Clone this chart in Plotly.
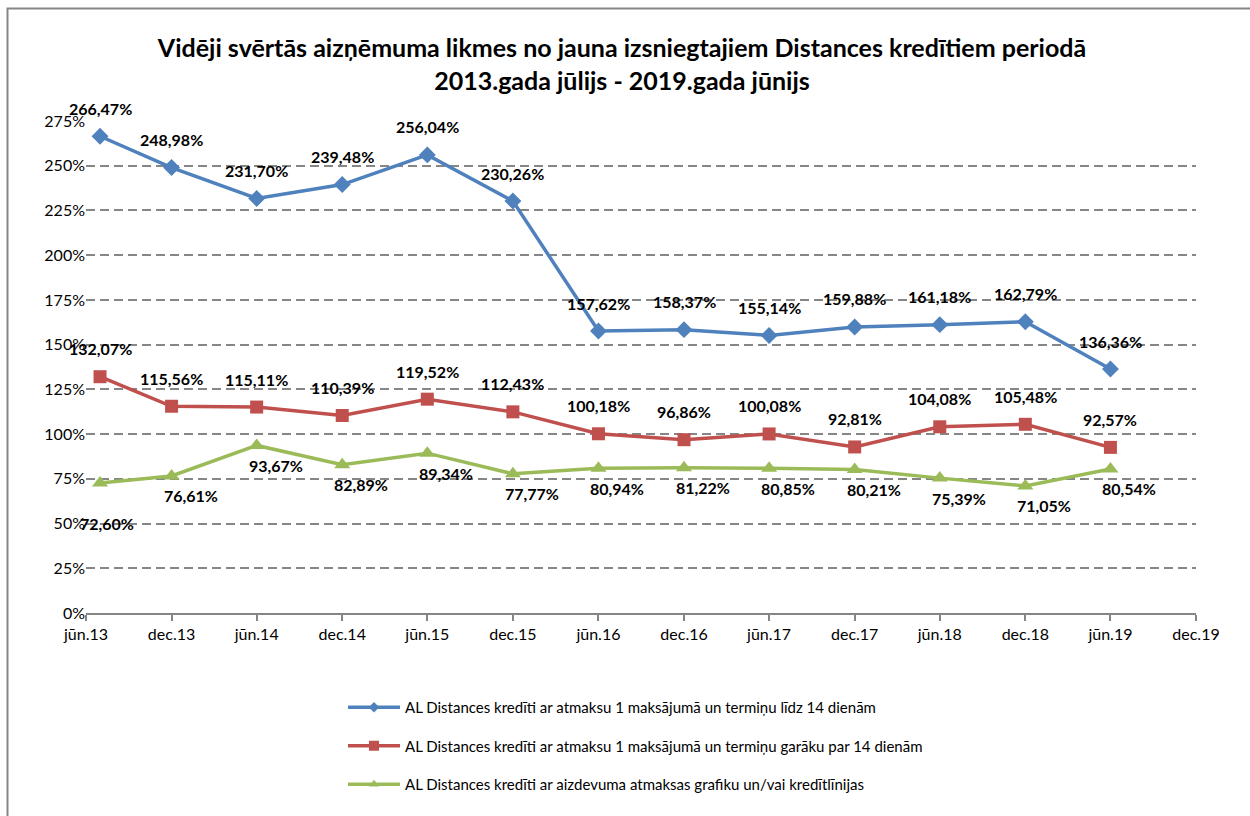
import plotly.graph_objects as go

# ---- data ----
dates = ["2013-07-01", "2013-12-01", "2014-06-01", "2014-12-01", "2015-06-01",
         "2015-12-01", "2016-06-01", "2016-12-01", "2017-06-01", "2017-12-01",
         "2018-06-01", "2018-12-01", "2019-06-01"]

series_names = [
    "AL Distances kredīti ar atmaksu 1 maksājumā un termiņu līdz 14 dienām",
    "AL Distances kredīti ar atmaksu 1 maksājumā un termiņu garāku par 14 dienām",
    "AL Distances kredīti ar aizdevuma atmaksas grafiku un/vai kredītlīnijas",
]
blue_vals = [266.47, 248.98, 231.70, 239.48, 256.04, 230.26, 157.62, 158.37,
             155.14, 159.88, 161.18, 162.79, 136.36]
red_vals = [132.07, 115.56, 115.11, 110.39, 119.52, 112.43, 100.18, 96.86,
            100.08, 92.81, 104.08, 105.48, 92.57]
green_vals = [72.60, 76.61, 93.67, 82.89, 89.34, 77.77, 80.94, 81.22,
              80.85, 80.21, 75.39, 71.05, 80.54]

tick_dates = ["2013-06-01", "2013-12-01", "2014-06-01", "2014-12-01", "2015-06-01",
              "2015-12-01", "2016-06-01", "2016-12-01", "2017-06-01", "2017-12-01",
              "2018-06-01", "2018-12-01", "2019-06-01", "2019-12-01"]
tick_labels = ["jūn.13", "dec.13", "jūn.14", "dec.14", "jūn.15", "dec.15", "jūn.16",
               "dec.16", "jūn.17", "dec.17", "jūn.18", "dec.18", "jūn.19", "dec.19"]

y_ticks = [0, 25, 50, 75, 100, 125, 150, 175, 200, 225, 250, 275]
y_tick_labels = [f"{v}%" for v in y_ticks]

title_text = ("Vidēji svērtās aizņēmuma likmes no jauna izsniegtajiem Distances kredītiem periodā"
              "<br>2013.gada jūlijs - 2019.gada jūnijs")

FONT = "Lato"
colors = ["#4F81BD", "#C0504D", "#9BBB59"]
symbols = ["diamond", "square", "triangle-up"]
msizes = [13, 13, 14]
legend_msizes = [8, 10, 9]


def fmt(v):
    return f"{v:.2f}".replace(".", ",") + "%"


fig = go.Figure()
for name, vals, col, sym, ms in zip(series_names, [blue_vals, red_vals, green_vals],
                                     colors, symbols, msizes):
    fig.add_trace(go.Scatter(
        x=dates, y=vals, name=name, mode="lines+markers",
        line=dict(color=col, width=3.5),
        marker=dict(symbol=sym, size=ms, color=col),
        legendgroup=name, showlegend=False,
    ))
# legend entries (smaller markers, as in the original legend)
for name, col, sym, ms in zip(series_names, colors, symbols, legend_msizes):
    fig.add_trace(go.Scatter(
        x=[None], y=[None], name=name, mode="lines+markers",
        line=dict(color=col, width=3.5),
        marker=dict(symbol=sym, size=ms, color=col),
        legendgroup=name, showlegend=True, hoverinfo="skip",
    ))

annotations = []
for vals, xs, ys in [(blue_vals, 0, 28), (red_vals, 0, 28), (green_vals, 19, -20)]:
    for i, (d, v) in enumerate(zip(dates, vals)):
        xsh, ysh = xs, ys
        if vals is green_vals and i == 0:
            xsh, ysh = 7, -40
        annotations.append(dict(
            x=d, y=v, xref="x", yref="y", text=fmt(v), showarrow=False,
            xshift=xsh, yshift=ysh,
            font=dict(family=FONT, size=16, color="#000000", weight="bold"),
        ))

L, R, T, B = 86, 1196, 121, 613
W, H = 1250, 816
pw, ph = R - L, B - T


def px_x(p):
    return (p - L) / pw


def px_y(p):
    return (B - p) / ph


fig.update_layout(
    width=W, height=H,
    margin=dict(l=L, r=W - R, t=T, b=H - B, pad=0),
    paper_bgcolor="white", plot_bgcolor="white",
    font=dict(family=FONT, size=16, color="#000000"),
    title=dict(text=title_text, x=622 / W, xanchor="center", xref="container",
               y=1 - 57 / H, yanchor="middle", yref="container",
               font=dict(family=FONT, size=25, color="#000000", weight="bold")),
    xaxis=dict(type="date", range=[tick_dates[0], tick_dates[-1]],
               tickvals=tick_dates, ticktext=tick_labels,
               showgrid=False, zeroline=False,
               showline=True, linecolor="#868686", linewidth=2,
               ticks="outside", ticklen=6, tickwidth=2, tickcolor="#868686",
               tickfont=dict(family=FONT, size=16, color="#000000")),
    yaxis=dict(range=[0, 275], tickvals=y_ticks, ticktext=y_tick_labels,
               showgrid=True, gridcolor="#868686", gridwidth=2, griddash="9px,5px",
               zeroline=False, showline=False, ticks="",
               tickfont=dict(family=FONT, size=16, color="#000000")),
    legend=dict(orientation="v", x=px_x(343), y=px_y(691), xanchor="left", yanchor="top",
                traceorder="grouped", tracegroupgap=16, itemwidth=52,
                font=dict(family=FONT, size=15, color="#000000"),
                bgcolor="rgba(0,0,0,0)"),
    showlegend=True,
    annotations=annotations,
    shapes=[dict(type="rect", xref="paper", yref="paper",
                 x0=px_x(7.5), y0=px_y(840), x1=px_x(1270), y1=px_y(8.5),
                 line=dict(color="#868686", width=2), fillcolor="rgba(0,0,0,0)",
                 layer="below")],
)

fig.write_html("out.html", config={"displayModeBar": False},
               post_script="document.body.style.margin='0';document.body.style.overflow='hidden';")
